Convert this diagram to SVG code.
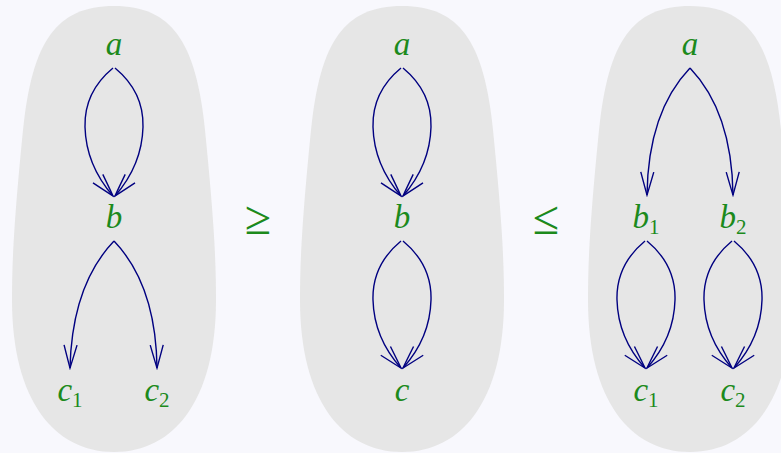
<svg xmlns="http://www.w3.org/2000/svg" width="781" height="453" viewBox="0 0 781 453">
<defs>
<style>
.blob{fill:#e6e6e6;stroke:none}
.lbl{font-family:"Liberation Serif","DejaVu Serif",serif;font-style:italic;font-size:33px;fill:#1c8a1c;text-anchor:middle}
.sub{font-style:normal;font-size:21px}
.rel{font-family:"Liberation Serif","DejaVu Serif",serif;font-size:48px;fill:#1c8a1c;text-anchor:middle}
.edge{fill:none;stroke:#000080;stroke-width:1.4;marker-end:url(#to)}
</style>
<marker id="to" viewBox="-25 -8 27 16" refX="0" refY="0" markerWidth="27" markerHeight="16" markerUnits="userSpaceOnUse" orient="auto">
<path d="M -23,-6.5 C -14,-4 -5,-1.5 0,0 C -5,1.5 -14,4 -23,6.5" fill="none" stroke="#000080" stroke-width="1.4"/>
</marker>
<path id="blobshape" d="M 0,6 C 58,6 82,42 91,130 C 100,220 102,260 102,300 C 102,400 60,452 0,452 C -60,452 -102,400 -102,300 C -102,260 -100,220 -91,130 C -82,42 -58,6 0,6 Z"/>
</defs>
<rect width="781" height="453" fill="#f8f8fd"/>
<g id="blobs">
<use href="#blobshape" class="blob" x="114"/>
<use href="#blobshape" class="blob" x="402"/>
<use href="#blobshape" class="blob" x="690"/>
</g>
<g id="connectors">
<path class="edge" d="M113,68 Q84,92 85,127 Q86,165 113,196"/>
<path class="edge" d="M115,68 Q144,92 143,127 Q142,165 115,196"/>
<path class="edge" d="M114,241 Q72,285 70,368"/>
<path class="edge" d="M114,241 Q156,285 157,368"/>
<path class="edge" d="M401,68 Q372,92 373,127 Q374,165 401,196"/>
<path class="edge" d="M403,68 Q432,92 431,127 Q430,165 403,196"/>
<path class="edge" d="M401,241 Q372,265 373,300 Q374,338 401,368"/>
<path class="edge" d="M403,241 Q432,265 431,300 Q430,338 403,368"/>
<path class="edge" d="M690,68 Q648,112 647,195"/>
<path class="edge" d="M690,68 Q732,112 733,195"/>
<path class="edge" d="M645,241 Q616,265 617,300 Q618,338 645,368"/>
<path class="edge" d="M647,241 Q676,265 675,300 Q674,338 647,368"/>
<path class="edge" d="M732,241 Q703,265 704,300 Q705,338 732,368"/>
<path class="edge" d="M734,241 Q763,265 762,300 Q761,338 734,368"/>
</g>
<g id="n-a1"><text class="lbl" x="114" y="55">a</text></g>
<g id="n-b1"><text class="lbl" x="114" y="228">b</text></g>
<g id="n-c11"><text class="lbl" x="70" y="401">c<tspan class="sub" dy="6">1</tspan></text></g>
<g id="n-c12"><text class="lbl" x="157" y="401">c<tspan class="sub" dy="6">2</tspan></text></g>
<g id="rel-ge"><text class="rel" x="258" y="234">≥</text></g>
<g id="n-a2"><text class="lbl" x="402" y="55">a</text></g>
<g id="n-b2"><text class="lbl" x="402" y="228">b</text></g>
<g id="n-c2"><text class="lbl" x="402" y="401">c</text></g>
<g id="rel-le"><text class="rel" x="546" y="234">≤</text></g>
<g id="n-a3"><text class="lbl" x="690" y="55">a</text></g>
<g id="n-b31"><text class="lbl" x="646" y="228">b<tspan class="sub" dy="6">1</tspan></text></g>
<g id="n-b32"><text class="lbl" x="733" y="228">b<tspan class="sub" dy="6">2</tspan></text></g>
<g id="n-c31"><text class="lbl" x="646" y="401">c<tspan class="sub" dy="6">1</tspan></text></g>
<g id="n-c32"><text class="lbl" x="733" y="401">c<tspan class="sub" dy="6">2</tspan></text></g>
</svg>
